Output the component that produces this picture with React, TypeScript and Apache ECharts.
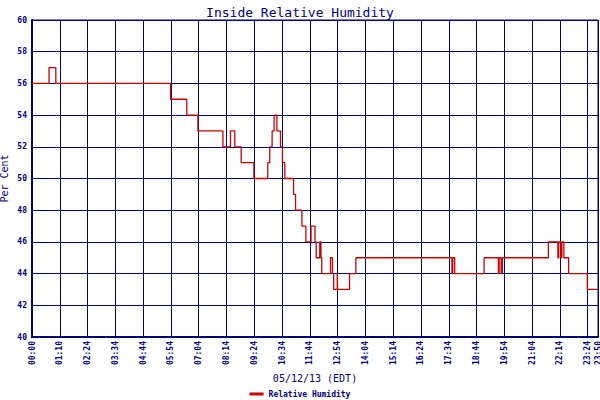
import { useEffect, useRef } from "react";
import * as echarts from "echarts";

// x positions are in axis units: one labelled tick = 70 units
const tickLabels = [
  "00:00", "01:10", "02:24", "03:34", "04:44", "05:54", "07:04", "08:14",
  "09:24", "10:34", "11:44", "12:54", "14:04", "15:14", "16:24", "17:34",
  "18:44", "19:54", "21:04", "22:14", "23:24",
];
const endLabel = "23:50";
const xEnd = 1426;

// step changes: value holds from x until the next x
const changeX = [
  0, 43, 60, 349, 390, 418, 481, 500, 511, 527, 529, 559,
  594, 599, 605, 610, 617, 626, 631, 637, 659, 664, 680, 690, 703, 713,
  716, 725, 728, 730, 752, 757, 760, 769, 770, 773, 800, 816, 1058, 1060,
  1065, 1068, 1139, 1175, 1177, 1182, 1185, 1189, 1301, 1325, 1327, 1332,
  1335, 1340, 1352, 1399, xEnd,
];
const humidity = [
  56, 57, 56, 55, 54, 53, 52, 53, 52, 51, 51, 50,
  51, 52, 53, 54, 53, 52, 51, 50, 49, 48, 47, 46, 47, 46,
  45, 46, 45, 44, 45, 44, 43, 44, 43, 43, 44, 45, 44, 45,
  44, 44, 45, 44, 45, 44, 45, 45, 46, 45, 46, 45,
  46, 45, 44, 43, 43,
];

const navy = "#000080";
const mono = "DejaVu Sans Mono";

export default function App() {
  const ref = useRef<HTMLDivElement | null>(null);

  useEffect(() => {
    document.body.style.margin = "0";
    if (!ref.current) return;
    const chart = echarts.init(ref.current, undefined, { renderer: "svg" });
    const data = changeX.map((x, i) => [x, humidity[i]]);

    chart.setOption({
      animation: false,
      backgroundColor: "#ffffff",
      title: {
        text: "Inside Relative Humidity",
        left: "center",
        top: 1,
        textStyle: { color: navy, fontFamily: mono, fontSize: 13, fontWeight: "normal" },
      },
      grid: {
        left: 32,
        right: 2,
        top: 20,
        bottom: 63,
        outerBoundsMode: "none",
        show: true,
        borderColor: navy,
        borderWidth: 1,
      },
      legend: {
        top: 389,
        left: "center",
        padding: 1,
        itemWidth: 14,
        itemHeight: 3,
        itemGap: 4,
        icon: "rect",
        textStyle: { color: navy, fontFamily: mono, fontSize: 8, fontWeight: "bold" },
        data: ["Relative Humidity"],
      },
      xAxis: {
        type: "value",
        min: 0,
        max: xEnd,
        interval: 70,
        name: "05/12/13 (EDT)",
        nameLocation: "middle",
        nameGap: 36,
        nameMoveOverlap: false,
        nameTextStyle: { color: navy, fontFamily: mono, fontSize: 10 },
        axisLine: { lineStyle: { color: navy, width: 2 } },
        axisTick: { show: false },
        splitLine: { show: true, lineStyle: { color: navy, width: 1 } },
        axisLabel: {
          rotate: 90,
          margin: 4,
          showMaxLabel: true,
          showMinLabel: true,
          color: navy,
          fontFamily: mono,
          fontSize: 8,
          fontWeight: "bold",
          formatter: (v: number) =>
            v >= xEnd ? endLabel : tickLabels[Math.round(v / 70)] ?? "",
        },
      },
      yAxis: {
        type: "value",
        min: 40,
        max: 60,
        interval: 2,
        name: "Per Cent",
        nameLocation: "middle",
        nameGap: 23,
        nameMoveOverlap: false,
        nameTextStyle: { color: navy, fontFamily: mono, fontSize: 10 },
        axisLine: { show: true, lineStyle: { color: navy, width: 2 } },
        axisTick: { show: false },
        splitLine: { show: true, lineStyle: { color: navy, width: 1 } },
        axisLabel: {
          margin: 5,
          color: navy,
          fontFamily: mono,
          fontSize: 8,
          fontWeight: "bold",
        },
      },
      series: [
        {
          name: "Relative Humidity",
          type: "line",
          step: "end",
          symbol: "none",
          color: "#cc0000",
          lineStyle: { color: "#cc0000", width: 1.3 },
          data,
        },
      ],
    });

    return () => chart.dispose();
  }, []);

  return <div ref={ref} style={{ width: 600, height: 400 }} />;
}
